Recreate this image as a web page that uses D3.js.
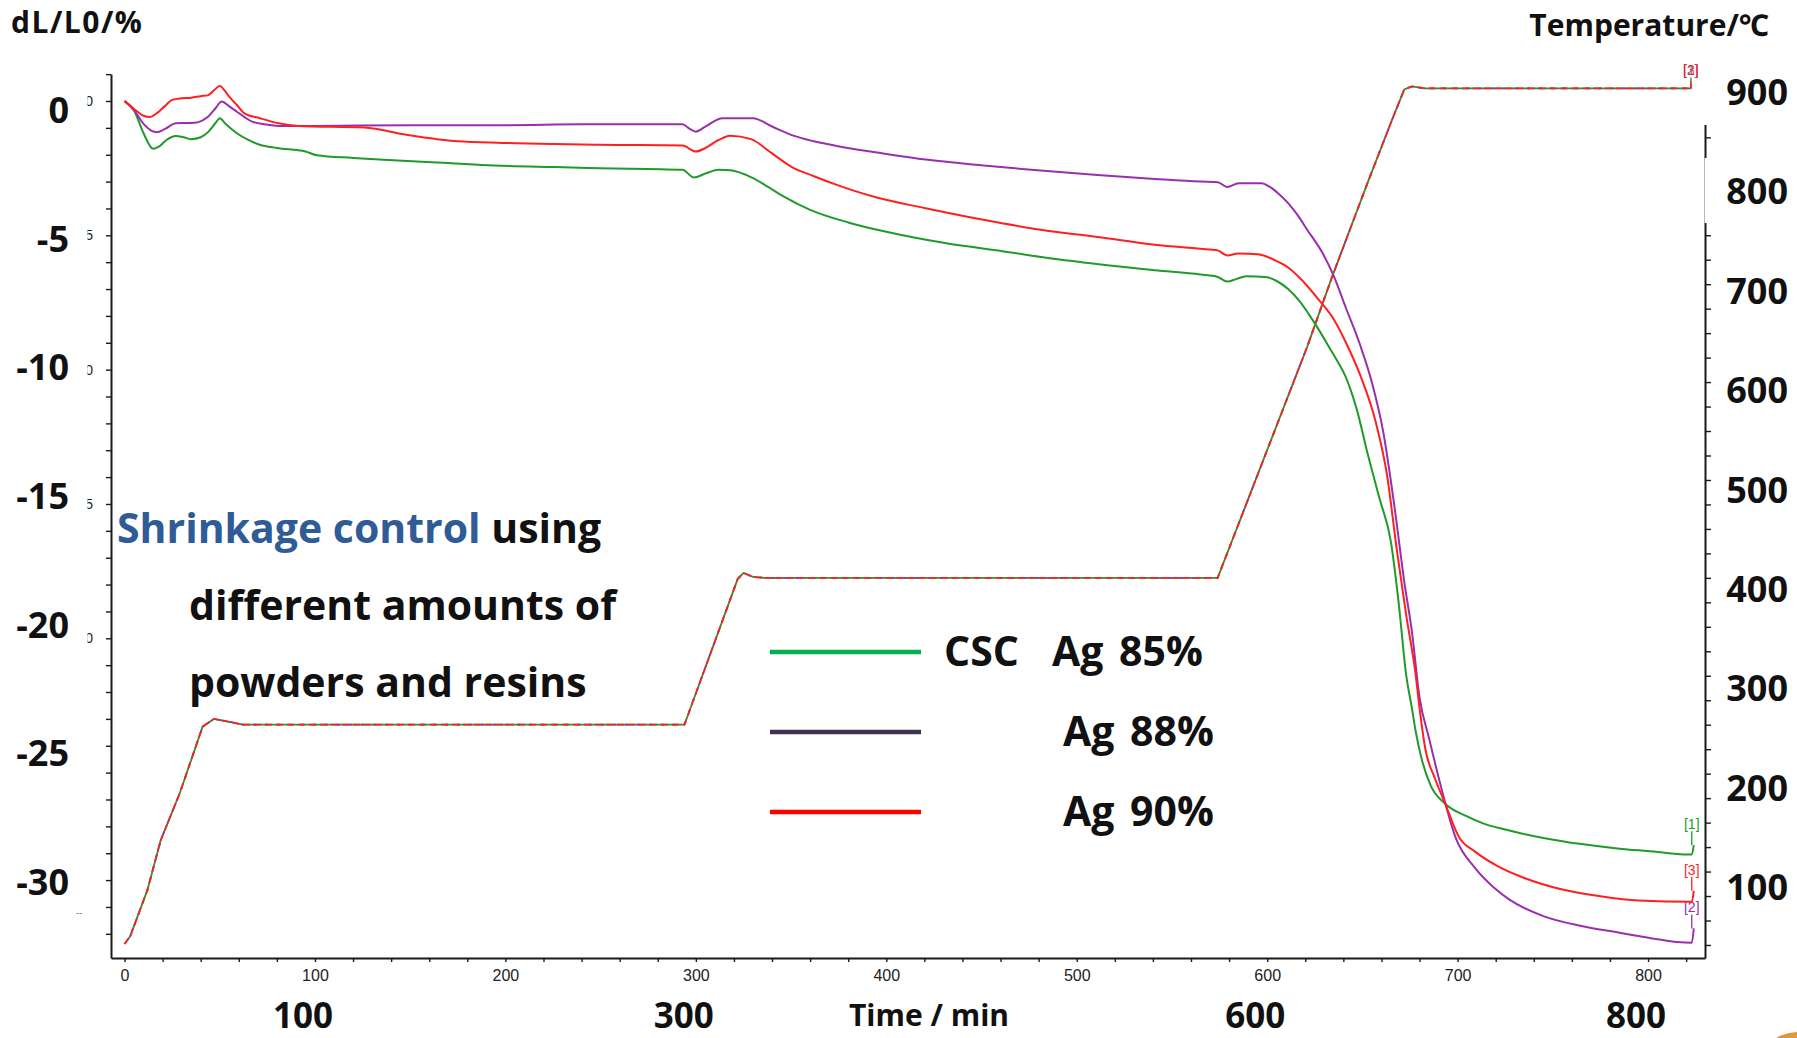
<!DOCTYPE html>
<html>
<head>
<meta charset="utf-8">
<script src="https://cdn.jsdelivr.net/npm/d3@7"></script>
<style>
  html, body { margin: 0; padding: 0; background: #fff; }
  svg { display: block; }
  .big { font-family: "Open Sans", "Noto Sans", sans-serif; font-weight: 700; }
  .small { font-family: "Liberation Sans", Arial, sans-serif; }
</style>
</head>
<body>
<svg id="chart" width="1797" height="1038"></svg>
<script>
// ---- Dilatometer run: time (min) vs. linear change dL/L0 (%) ----
const seriesNames = ["CSC  Ag 85%", "Ag 88%", "Ag 90%"];

const csc85 = [
  [0, 0], [5, -0.35], [10, -1.2], [15, -1.78], [18, -1.7], [22, -1.45], [27, -1.3], [31, -1.35],
  [35, -1.42], [40, -1.35], [44, -1.15], [48, -0.8], [50, -0.64], [53, -0.85], [59, -1.2],
  [65, -1.45], [71, -1.63], [80, -1.75], [95, -1.88], [101, -2.02], [120, -2.12], [136, -2.19],
  [170, -2.31], [194, -2.4], [226, -2.46], [250, -2.5], [293, -2.56], [299, -2.85], [305, -2.7],
  [312, -2.56], [318, -2.58], [330, -2.87], [338, -3.2], [346, -3.55], [360, -4.05], [380, -4.52],
  [400, -4.87], [430, -5.28], [461, -5.59], [491, -5.9], [521, -6.15], [541, -6.3], [565, -6.46],
  [574, -6.55], [579, -6.72], [584, -6.62], [589, -6.52], [599, -6.55], [605, -6.7], [611, -7.0],
  [617, -7.45], [622, -7.95], [627, -8.5], [632, -9.1], [637, -9.7], [641, -10.23], [647, -11.47],
  [653, -13.2], [659, -14.8], [665, -16.42], [669, -18.65], [673, -21.37], [676, -22.6],
  [678, -23.47], [681, -24.46], [686, -25.5], [693, -26.13], [705, -26.63], [713, -26.88],
  [725, -27.12], [745, -27.43], [765, -27.66], [785, -27.83], [805, -27.95], [815, -28.03],
  [823, -28.05], [824, -27.7]
];

const ag88 = [
  [0, 0], [5, -0.35], [10, -0.85], [14, -1.1], [17, -1.16], [21, -1.05], [27, -0.83], [32, -0.82],
  [37, -0.81], [41, -0.72], [44, -0.58], [48, -0.25], [51, -0.02], [55, -0.2], [59, -0.4],
  [63, -0.6], [67, -0.77], [75, -0.88], [83, -0.93], [100, -0.93], [150, -0.9], [200, -0.9],
  [240, -0.87], [293, -0.87], [297, -1.05], [300, -1.14], [305, -0.95], [314, -0.64], [330, -0.64],
  [340, -0.95], [350, -1.26], [362, -1.5], [376, -1.7], [400, -1.97], [422, -2.19], [451, -2.4],
  [481, -2.59], [511, -2.75], [541, -2.9], [565, -3.0], [574, -3.02], [579, -3.2], [585, -3.06],
  [597, -3.06], [601, -3.18], [606, -3.45], [611, -3.8], [616, -4.25], [621, -4.79], [629, -5.65],
  [635, -6.52], [641, -7.64], [649, -9.12], [655, -10.48], [661, -12.34], [667, -15.18],
  [672, -17.9], [676, -19.75], [680, -22.2], [685, -23.72], [691, -25.45], [699, -27.43],
  [709, -28.54], [719, -29.28], [727, -29.72], [745, -30.34], [765, -30.71], [785, -30.96],
  [805, -31.2], [815, -31.3], [823, -31.33], [824, -30.8]
];

const ag90 = [
  [0, 0], [5, -0.3], [10, -0.55], [13, -0.6], [17, -0.45], [21, -0.2], [25, 0.04], [30, 0.1],
  [35, 0.12], [40, 0.18], [44, 0.22], [47, 0.4], [50, 0.56], [53, 0.35], [55, 0.16], [59, -0.15],
  [63, -0.46], [71, -0.64], [81, -0.83], [91, -0.93], [126, -0.99], [148, -1.26], [164, -1.42],
  [178, -1.51], [206, -1.57], [226, -1.6], [250, -1.63], [293, -1.66], [300, -1.88], [305, -1.75],
  [312, -1.45], [318, -1.29], [329, -1.42], [340, -1.95], [350, -2.44], [362, -2.8], [374, -3.12],
  [396, -3.61], [420, -3.98], [451, -4.42], [481, -4.79], [511, -5.06], [541, -5.35], [565, -5.5],
  [574, -5.56], [579, -5.75], [585, -5.68], [595, -5.7], [605, -5.96], [611, -6.2], [617, -6.58],
  [627, -7.39], [635, -8.13], [643, -9.24], [649, -10.23], [657, -11.95], [663, -13.95],
  [668, -16.67], [673, -19.14], [678, -21.37], [680, -22.6], [683, -24.1], [688, -25.2],
  [693, -26.07], [701, -27.43], [709, -27.93], [721, -28.48], [735, -28.92], [755, -29.35],
  [775, -29.6], [795, -29.76], [823, -29.81], [824, -29.4]
];

// Furnace program (°C), common to the three runs
const temperature = [
  [0, 26], [3, 34], [12, 81], [19, 132], [29, 180], [41, 248], [47, 256], [55, 253], [62, 250],
  [294, 250], [322, 399], [325, 405], [330, 401], [336, 400], [574, 400], [621, 636], [634, 707],
  [653, 805], [666, 870], [672, 899], [676, 902], [683, 900], [822.5, 900]
];

// Tick values
const timeTicks = d3.range(0, 821, 20);
const timeLabelTicks = [0, 100, 200, 300, 400, 500, 600, 700, 800];
const dlTicks = d3.range(-31, 2, 1);
const dlLabelTicks = [0, -5, -10, -15, -20];
const tempTicks = d3.range(25, 901, 25);

// Large overlay labels
const dlBigLabels = [0, -5, -10, -15, -20, -25, -30];
const tempBigLabels = [900, 800, 700, 600, 500, 400, 300, 200, 100];
const timeBigLabels = [100, 300, 600, 800];

const seriesColors = ["#1f9a2b", "#9a2fae", "#ff1f1f"];
const legendColors = ["#00b050", "#3f3151", "#ff0000"];
const seriesTags = ["[1]", "[2]", "[3]"];

// ---- scales ----
const X0 = 111, X1 = 1705, Y0 = 74, Y1 = 958;
const x = d3.scaleLinear().domain([-7.1, 829.9]).range([X0, X1]);
const yL = d3.scaleLinear().domain([-31.9, 1.005]).range([Y1, Y0]);
const yT = d3.scaleLinear().domain([11.7, 914.7]).range([Y1, Y0]);
// placement scales for the large hand-set axis numerals
const yLLabel = d3.scaleLinear().domain([0, -30]).range([123, 895]);
const yTLabel = d3.scaleLinear().domain([900, 100]).range([105, 900]);

const svg = d3.select("#chart");
const defs = svg.append("defs");

// ---- axes ----
function styleAxis(g) {
  g.selectAll("path.domain").attr("stroke", "#1a1a1a").attr("stroke-width", 2);
  g.selectAll(".tick line").attr("stroke", "#1a1a1a").attr("stroke-width", 1.4);
}

const gx = svg.append("g")
  .attr("transform", `translate(0,${Y1})`)
  .call(d3.axisBottom(x).tickValues(timeTicks).tickSize(4).tickSizeOuter(0).tickPadding(8)
    .tickFormat(d => timeLabelTicks.includes(d) ? d : ""));
gx.call(styleAxis);
gx.selectAll("text").attr("class", "small").attr("font-size", 16).style("fill", "#222");

// the original small numerals of the left axis sit under the large labels;
// only their trailing edge stays visible next to the axis
defs.append("clipPath").attr("id", "leftLabelClip")
  .append("rect").attr("x", -1.5).attr("y", -20).attr("width", 30).attr("height", 40);

const gyL = svg.append("g")
  .attr("transform", `translate(${X0},0)`)
  .call(d3.axisLeft(yL).tickValues(dlTicks).tickSize(5).tickSizeOuter(0)
    .tickFormat(d => dlLabelTicks.includes(d) ? String(d).replace("-", "−") : ""));
gyL.call(styleAxis);
gyL.selectAll(".tick").each(function () {
  const t = d3.select(this);
  const txt = t.select("text");
  const label = txt.text();
  txt.remove();
  if (label) {
    t.append("g").attr("transform", "translate(-22,0)").attr("clip-path", "url(#leftLabelClip)")
      .append("text").attr("class", "small").attr("font-size", 14).style("fill", "#222")
      .attr("x", 4).attr("dy", "0.32em").attr("text-anchor", "end")
      .text(label);
  }
});

const gyT = svg.append("g")
  .attr("transform", `translate(${X1},0)`)
  .call(d3.axisRight(yT).tickValues(tempTicks).tickSize(6).tickSizeOuter(0).tickFormat(""));
gyT.call(styleAxis);

svg.append("text").attr("class", "small").attr("x", 76).attr("y", 916)
  .attr("font-size", 9).style("fill", "#666").text("--");

// ---- temperature program (three coincident traces) ----
const tempLine = d3.line().x(d => x(d[0])).y(d => yT(d[1]));
const tempLayers = [
  { color: seriesColors[0], dash: null, off: 0 },
  { color: seriesColors[1], dash: "3,9", off: 3 },
  { color: seriesColors[2], dash: "7,4", off: 0 }
];
tempLayers.forEach(l => {
  svg.append("path").datum(temperature)
    .attr("d", tempLine).attr("fill", "none")
    .attr("stroke", l.color).attr("stroke-width", 1.8)
    .attr("stroke-dasharray", l.dash).attr("stroke-dashoffset", l.off);
});
const tEnd = temperature[temperature.length - 1];
tempLayers.forEach(l => {
  svg.append("line")
    .attr("x1", x(tEnd[0])).attr("x2", x(tEnd[0]))
    .attr("y1", yT(tEnd[1])).attr("y2", yT(tEnd[1]) - 11)
    .attr("stroke", l.color).attr("stroke-width", 1.4).attr("stroke-dasharray", l.dash);
});
seriesTags.forEach((tag, i) => {
  svg.append("text").attr("class", "small").attr("font-size", 14)
    .attr("x", x(tEnd[0])).attr("y", yT(tEnd[1]) - 13).attr("text-anchor", "middle")
    .style("fill", seriesColors[i]).style("fill-opacity", 0.85)
    .text(tag);
});

// ---- dL/L0 curves ----
const dlLine = d3.line().x(d => x(d[0])).y(d => yL(d[1])).curve(d3.curveMonotoneX);
[csc85, ag88, ag90].forEach((s, i) => {
  svg.append("path").datum(s)
    .attr("d", dlLine).attr("fill", "none")
    .attr("stroke", seriesColors[i]).attr("stroke-width", 2)
    .attr("stroke-linejoin", "round");
  const last = s[s.length - 1];
  const lx = x(last[0]) - 2, ly = yL(last[1]);
  svg.append("line").attr("x1", lx).attr("x2", lx).attr("y1", ly).attr("y2", ly - 14)
    .attr("stroke", seriesColors[i]).attr("stroke-width", 1.3);
  svg.append("text").attr("class", "small").attr("font-size", 14)
    .attr("x", lx).attr("y", ly - 16).attr("text-anchor", "middle")
    .style("fill", seriesColors[i]).text(seriesTags[i]);
});

// ---- cover panels behind the large right-hand numerals ----
svg.append("rect").attr("x", X1 - 4).attr("y", 40).attr("width", 100).attr("height", 85).attr("fill", "#fff");
svg.append("rect").attr("x", X1 - 4).attr("y", 158).attr("width", 100).attr("height", 65).attr("fill", "#fff");
svg.append("line").attr("x1", X1 - 0.5).attr("x2", X1 - 0.5).attr("y1", 158).attr("y2", 223)
  .attr("stroke", "#b8b8b8").attr("stroke-width", 1);

// ---- large axis numerals and titles ----
svg.append("g").selectAll("text").data(dlBigLabels).join("text")
  .attr("class", "big").attr("font-size", 36).attr("text-anchor", "end").style("fill", "#111")
  .attr("x", 69).attr("y", d => yLLabel(d)).text(d => d);

svg.append("g").selectAll("text").data(tempBigLabels).join("text")
  .attr("class", "big").attr("font-size", 36).attr("text-anchor", "end").style("fill", "#111")
  .attr("x", 1788).attr("y", d => yTLabel(d)).text(d => d);

svg.append("g").selectAll("text").data(timeBigLabels).join("text")
  .attr("class", "big").attr("font-size", 35).attr("text-anchor", "middle").style("fill", "#111")
  .attr("x", d => x(d) - 12).attr("y", 1028).text(d => d);

svg.append("text").attr("class", "big").attr("font-size", 30).attr("text-anchor", "middle")
  .style("fill", "#111").attr("x", 929).attr("y", 1026).text("Time / min");
svg.append("text").attr("class", "big").attr("font-size", 30).style("fill", "#111")
  .style("letter-spacing", "1.5px").attr("x", 11).attr("y", 33).text("dL/L0/%");
svg.append("text").attr("class", "big").attr("font-size", 30).attr("text-anchor", "end")
  .style("fill", "#111").attr("x", 1769).attr("y", 36).text("Temperature/℃");

// ---- annotation ----
const note = svg.append("g").attr("class", "big").attr("font-size", 41).style("fill", "#111");
const l1 = note.append("text").attr("x", 117).attr("y", 543);
l1.append("tspan").style("fill", "#2f5b96").text("Shrinkage control");
l1.append("tspan").text(" using");
note.append("text").attr("x", 189).attr("y", 620).text("different amounts of");
note.append("text").attr("x", 189).attr("y", 697).text("powders and resins");

// ---- legend ----
const legend = svg.append("g");
seriesNames.forEach((name, i) => {
  const ly = 652 + i * 80;
  legend.append("line").attr("x1", 770).attr("x2", 921).attr("y1", ly).attr("y2", ly)
    .attr("stroke", legendColors[i]).attr("stroke-width", 4.5);
  const parts = name.split("  ");
  if (parts.length > 1) {
    legend.append("text").attr("class", "big").attr("font-size", 41).style("fill", "#111")
      .attr("x", 944).attr("y", ly + 14).text(parts[0]);
  }
  legend.append("text").attr("class", "big").attr("font-size", 41).style("fill", "#111")
    .style("word-spacing", "5px")
    .attr("x", parts.length > 1 ? 1052 : 1063).attr("y", ly + 14).text(parts[parts.length - 1]);
});

// ---- corner badge ----
const grad = defs.append("radialGradient").attr("id", "badge").attr("cx", "50%").attr("cy", "30%").attr("r", "60%");
grad.append("stop").attr("offset", "0%").attr("stop-color", "#f0b35a");
grad.append("stop").attr("offset", "100%").attr("stop-color", "#c9771f");
svg.append("circle").attr("cx", 1798).attr("cy", 1075).attr("r", 43).attr("fill", "url(#badge)");
</script>
</body>
</html>
